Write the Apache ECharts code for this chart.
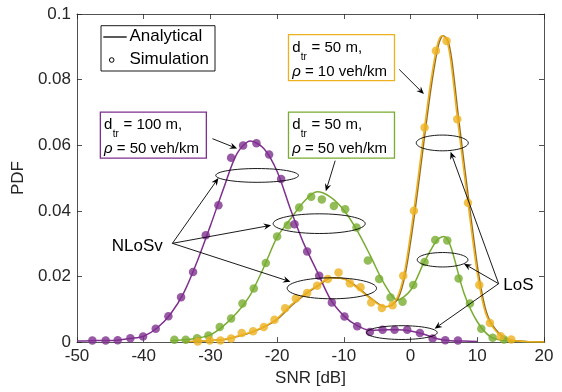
<!DOCTYPE html>
<html>
<head>
<meta charset="utf-8">
<script src="https://cdn.jsdelivr.net/npm/echarts@6/dist/echarts.min.js"></script>
<style>html,body{margin:0;padding:0;background:#fff}#c{width:562px;height:392px}</style>
</head>
<body>
<div id="c"></div>
<script>
// ---------- data ----------
const xTicks = [-50, -40, -30, -20, -10, 0, 10, 20];
const yTicks = [0, 0.02, 0.04, 0.06, 0.08, 0.1];

// Simulation points: d_tr = 100 m, rho = 50 veh/km (purple)
const purpleSimX = [-47.7,-45.7,-43.9,-42.0,-40.1,-38.2,-36.3,-34.4,-32.6,-30.7,-28.8,-26.9,-25.1,-23.1,-21.2,-19.4,-17.4,-15.5,-13.7,-11.8,-9.9,-8.0,-6.1,-4.2,-2.4,-0.5,1.4,3.3,5.2,7.1];
const purpleSimY = [0.0005,0.0005,0.0006,0.0012,0.0017,0.0041,0.0079,0.0137,0.0214,0.0326,0.0417,0.0562,0.0599,0.0606,0.0572,0.0497,0.0359,0.0276,0.0202,0.0121,0.0078,0.0048,0.0031,0.0038,0.0038,0.0038,0.0028,0.0011,0.0006,0.0005];
// Simulation points: d_tr = 50 m, rho = 50 veh/km (green)
const greenSimX = [-35.4,-33.7,-32.0,-30.3,-28.6,-26.9,-25.2,-23.5,-21.7,-20.0,-18.4,-16.7,-14.9,-13.3,-11.5,-9.8,-8.1,-6.4,-4.7,-3.0,-1.2,0.4,2.1,3.7,5.5,7.2,8.9,10.6,12.3,14.0];
const greenSimY = [0.0007,0.0007,0.0012,0.0020,0.0046,0.0072,0.0118,0.0163,0.0241,0.0322,0.0356,0.0410,0.0443,0.0435,0.0415,0.0405,0.0349,0.0249,0.0192,0.0136,0.0123,0.0174,0.0244,0.0311,0.0310,0.0194,0.0118,0.0041,0.0013,0.0008];
// Simulation points: d_tr = 50 m, rho = 10 veh/km (orange)
const orangeSimX = [-31.9,-30.1,-28.5,-26.9,-25.3,-23.6,-22.0,-20.4,-18.8,-17.2,-15.5,-14.0,-12.4,-10.8,-9.1,-7.5,-5.9,-4.3,-2.7,-1.1,0.5,2.1,3.8,5.4,7.0,8.6,10.3,11.9,13.5,15.1];
const orangeSimY = [0.0002,0.0005,0.0005,0.0011,0.0028,0.0033,0.0046,0.0068,0.0103,0.0133,0.0150,0.0172,0.0192,0.0212,0.0179,0.0167,0.0121,0.0104,0.0112,0.0202,0.0400,0.0654,0.0888,0.0918,0.0679,0.0425,0.0174,0.0058,0.0018,0.0008];

// Analytical curves
const purpleLineX = [-50,-48,-46,-44,-42,-40,-38,-36,-34,-32,-30,-28,-26,-24,-22,-20,-18,-16,-14,-12,-10,-8,-6,-4,-2,0,2,4,6,8,10];
const purpleLineY = [0.0003,0.0004,0.0005,0.0006,0.0011,0.0018,0.0043,0.0085,0.0150,0.0245,0.0355,0.0470,0.0575,0.0613,0.0590,0.0520,0.0405,0.0300,0.0215,0.0130,0.0080,0.0050,0.0036,0.0037,0.0038,0.0034,0.0024,0.0010,0.0004,0.0003,0.0002];
const greenLineX = [-36,-34,-32,-30,-28,-26,-24,-22,-20,-18,-16,-14,-12,-10,-8,-6,-4,-2,0,2,4,5,6,8,10,12,14,16,20];
const greenLineY = [0.0004,0.0007,0.0012,0.0022,0.0050,0.0090,0.0145,0.0228,0.0320,0.0375,0.0428,0.0458,0.0442,0.0402,0.0340,0.0262,0.0180,0.0128,0.0158,0.0242,0.0312,0.0322,0.0292,0.0150,0.0062,0.0016,0.0005,0.0002,0.0000];
const orangeLineX = [-34,-32,-30,-28,-26,-24,-22,-20,-18,-16,-14,-12,-10,-8,-6,-4,-3,-2,-1,0,1,2,3,4,4.7,5.4,6,7,8,9,10,11,12,14,16,20];
const orangeLineY = [0.0001,0.0003,0.0005,0.0008,0.0018,0.0030,0.0047,0.0072,0.0112,0.0145,0.0172,0.0196,0.0192,0.0165,0.0132,0.0108,0.0112,0.0135,0.0205,0.0330,0.0480,0.0640,0.0790,0.0905,0.0934,0.0920,0.0860,0.0685,0.0520,0.0360,0.0210,0.0105,0.0055,0.0012,0.0003,0.0000];

const colPurple = '#7E2F8E', colGreen = '#77AC30', colOrange = '#EDB120';
const axisCol = '#262626';
const FONT = '"Liberation Sans", Arial, Helvetica, sans-serif';

function zip(xs, ys) { return xs.map((x, i) => [x, ys[i]]); }

const chart = echarts.init(document.getElementById('c'), null, {renderer: 'canvas'});

function axisCommon() {
  return {
    axisLine: {onZero: false, lineStyle: {color: axisCol, width: 0.8}},
    axisTick: {inside: true, length: 5, lineStyle: {color: axisCol, width: 0.8}},
    splitLine: {show: false}
  };
}

chart.setOption({
  animation: false,
  backgroundColor: '#fff',
  grid: {left: 77, right: 18, top: 14, bottom: 46, containLabel: false},
  xAxis: [
    Object.assign({type: 'value', min: -50, max: 20, interval: 10, position: 'bottom',
      name: 'SNR [dB]', nameLocation: 'middle', nameGap: 27,
      nameTextStyle: {fontFamily: FONT, fontSize: 17, color: axisCol},
      axisLabel: {fontFamily: FONT, fontSize: 17, color: axisCol, margin: 6,
        formatter: v => String(v)}}, axisCommon()),
    Object.assign({type: 'value', min: -50, max: 20, interval: 10, position: 'top',
      axisLabel: {show: false}}, axisCommon())
  ],
  yAxis: [
    Object.assign({type: 'value', min: 0, max: 0.1, interval: 0.02, position: 'left',
      name: 'PDF', nameLocation: 'middle', nameGap: 42, nameRotate: 90,
      nameTextStyle: {fontFamily: FONT, fontSize: 17, color: axisCol},
      axisLabel: {fontFamily: FONT, fontSize: 17, color: axisCol, margin: 6,
        formatter: v => (v === 0 ? '0' : String(+v.toFixed(2)))}}, axisCommon()),
    Object.assign({type: 'value', min: 0, max: 0.1, interval: 0.02, position: 'right',
      axisLabel: {show: false}}, axisCommon())
  ],
  series: [
    {type: 'line', data: zip(greenLineX, greenLineY), smooth: 0.3, symbol: 'none',
      lineStyle: {color: colGreen, width: 1.5}, z: 2},
    {type: 'line', data: zip(purpleLineX, purpleLineY), smooth: 0.3, symbol: 'none',
      lineStyle: {color: colPurple, width: 1.5}, z: 2},
    {type: 'line', data: zip(orangeLineX, orangeLineY), smooth: 0.3, symbol: 'none',
      lineStyle: {color: colOrange, width: 1.5, shadowColor: 'rgba(130,85,0,0.85)', shadowBlur: 0, shadowOffsetX: 1.2}, z: 3},
    {type: 'scatter', data: zip(greenSimX, greenSimY), symbol: 'circle', symbolSize: 8.5,
      itemStyle: {color: colGreen}, z: 4},
    {type: 'scatter', data: zip(purpleSimX, purpleSimY), symbol: 'circle', symbolSize: 8.5,
      itemStyle: {color: colPurple}, z: 4},
    {type: 'scatter', data: zip(orangeSimX, orangeSimY), symbol: 'circle', symbolSize: 8.5,
      itemStyle: {color: colOrange}, z: 4}
  ]
});

// ---------- annotations (positioned in data coordinates) ----------
const ellipses = [
  // [cx, cy, rx(dB), ry(PDF)]
  [-23.0, 0.0508, 6.2, 0.0021],
  [-13.7, 0.0361, 6.9, 0.0030],
  [-11.8, 0.0164, 6.7, 0.0032],
  [-1.3, 0.0029, 5.3, 0.0021],
  [4.8, 0.0251, 3.8, 0.0022],
  [4.75, 0.0607, 3.9, 0.0024]
];
const arrows = [
  // [fromX, fromY, toX, toY]
  [-29.7, 0.0620, -26.0, 0.0590],
  [-1.7, 0.0831, 2.0, 0.0756],
  [-11.3, 0.0553, -12.7, 0.0460],
  [-35.7, 0.0301, -28.8, 0.0500],
  [-35.7, 0.0301, -20.9, 0.0356],
  [-35.7, 0.0301, -18.0, 0.0184],
  [13.2, 0.0178, 6.0, 0.0580],
  [13.2, 0.0178, 8.0, 0.0239],
  [13.2, 0.0178, 3.6, 0.0041]
];
const labels = [
  // [text, x, y]
  ['NLoSv', -44.8, 0.0292],
  ['LoS', 13.9, 0.0174]
];
const boxes = [
  // [topLeftX, topLeftY, color, dText, rhoText]
  [-18.3, 0.0937, colOrange, ' = 50 m,', ' = 10 veh/km'],
  [-18.3, 0.0701, colGreen, ' = 50 m,', ' = 50 veh/km'],
  [-46.5, 0.0701, colPurple, ' = 100 m,', ' = 50 veh/km']
];

function px(x, y) { return chart.convertToPixel({gridIndex: 0}, [x, y]); }
const mctx = document.createElement('canvas').getContext('2d');
function tw(t, font) { mctx.font = font; return mctx.measureText(t).width; }

const g = [];
ellipses.forEach(e => {
  const c = px(e[0], e[1]);
  const r = px(e[0] + e[2], e[1] + e[3]);
  g.push({type: 'ellipse', shape: {cx: c[0], cy: c[1], rx: Math.abs(r[0] - c[0]), ry: Math.abs(r[1] - c[1])},
    style: {fill: null, stroke: '#000', lineWidth: 0.9}, z: 10});
});
arrows.forEach(a => {
  const p0 = px(a[0], a[1]), p1 = px(a[2], a[3]);
  const dx = p1[0] - p0[0], dy = p1[1] - p0[1];
  const L = Math.hypot(dx, dy), ux = dx / L, uy = dy / L, nx = -uy, ny = ux;
  const hl = 7.5, hw = 3.2, back = 5;
  g.push({type: 'line', shape: {x1: p0[0], y1: p0[1], x2: p1[0] - ux * back, y2: p1[1] - uy * back},
    style: {stroke: '#000', lineWidth: 0.9}, z: 10});
  g.push({type: 'polygon', shape: {points: [
    [p1[0], p1[1]],
    [p1[0] - ux * hl + nx * hw, p1[1] - uy * hl + ny * hw],
    [p1[0] - ux * back, p1[1] - uy * back],
    [p1[0] - ux * hl - nx * hw, p1[1] - uy * hl - ny * hw]
  ]}, style: {fill: '#000'}, z: 10});
});
labels.forEach(l => {
  const p = px(l[1], l[2]);
  g.push({type: 'text', x: p[0], y: p[1], style: {text: l[0], font: '17px ' + FONT, fill: '#000',
    align: 'left', verticalAlign: 'middle'}, z: 11});
});
const f15 = '15px ' + FONT, f10 = '10px ' + FONT, f15i = 'italic 15px ' + FONT;
boxes.forEach(b => {
  const p = px(b[0], b[1]);
  const x0 = p[0], y0 = p[1];
  g.push({type: 'rect', shape: {x: x0, y: y0, width: 106, height: 46},
    style: {fill: '#fff', stroke: b[2], lineWidth: 1.3}, z: 9});
  const dW = tw('d', f15), trW = tw('tr', f10);
  g.push({type: 'text', x: x0 + 3.7, y: y0 + 12.8, style: {text: 'd', font: f15, fill: '#000', verticalAlign: 'middle'}, z: 11});
  g.push({type: 'text', x: x0 + 3.7 + dW + 0.3, y: y0 + 22.5, style: {text: 'tr', font: f10, fill: '#000', verticalAlign: 'middle'}, z: 11});
  g.push({type: 'text', x: x0 + 3.7 + dW + trW + 0.8, y: y0 + 12.8, style: {text: b[3], font: f15, fill: '#000', verticalAlign: 'middle'}, z: 11});
  const rW = tw('ρ', f15i);
  g.push({type: 'text', x: x0 + 3.7, y: y0 + 37.2, style: {text: 'ρ', font: f15i, fill: '#000', verticalAlign: 'middle'}, z: 11});
  g.push({type: 'text', x: x0 + 3.7 + rW, y: y0 + 37.2, style: {text: b[4], font: f15, fill: '#000', verticalAlign: 'middle'}, z: 11});
});
// legend
const lg = {x: 101, y: 25.7, w: 114, h: 45.3};
g.push({type: 'rect', shape: {x: lg.x, y: lg.y, width: lg.w, height: lg.h}, style: {fill: '#fff', stroke: '#000', lineWidth: 0.9}, z: 9});
g.push({type: 'line', shape: {x1: lg.x + 2.3, y1: lg.y + 11.3, x2: lg.x + 25.7, y2: lg.y + 11.3}, style: {stroke: '#000', lineWidth: 1.3}, z: 11});
g.push({type: 'text', x: lg.x + 28.5, y: lg.y + 11, style: {text: 'Analytical', font: '17px ' + FONT, fill: '#000', verticalAlign: 'middle'}, z: 11});
g.push({type: 'circle', shape: {cx: lg.x + 10.7, cy: lg.y + 34.3, r: 2.3}, style: {fill: '#fff', stroke: '#000', lineWidth: 1}, z: 11});
g.push({type: 'text', x: lg.x + 28.5, y: lg.y + 34, style: {text: 'Simulation', font: '17px ' + FONT, fill: '#000', verticalAlign: 'middle'}, z: 11});

chart.setOption({graphic: g});
</script>
</body>
</html>
